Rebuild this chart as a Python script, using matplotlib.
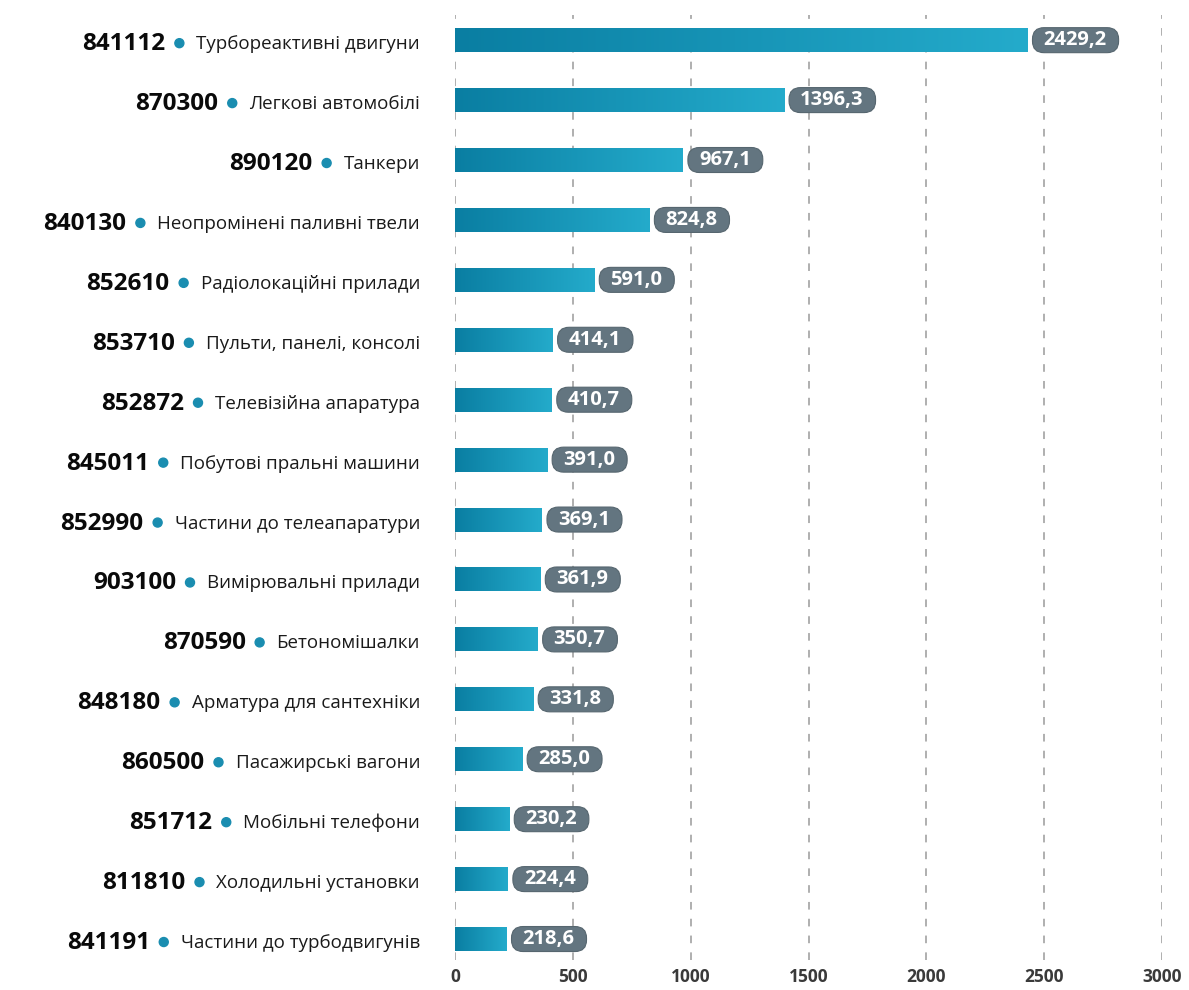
import matplotlib
matplotlib.use('Agg')
import matplotlib.pyplot as plt
import numpy as np
from matplotlib.colors import LinearSegmentedColormap
from matplotlib.patches import FancyBboxPatch, Circle

codes = ['841112', '870300', '890120', '840130', '852610', '853710', '852872', '845011',
         '852990', '903100', '870590', '848180', '860500', '851712', '811810', '841191']
names = ['Турбореактивні двигуни', 'Легкові автомобілі', 'Танкери', 'Неопромінені паливні твели',
         'Радіолокаційні прилади', 'Пульти, панелі, консолі', 'Телевізійна апаратура',
         'Побутові пральні машини', 'Частини до телеапаратури', 'Вимірювальні прилади',
         'Бетономішалки', 'Арматура для сантехніки', 'Пасажирські вагони', 'Мобільні телефони',
         'Холодильні установки', 'Частини до турбодвигунів']
values = [2429.2, 1396.3, 967.1, 824.8, 591.0, 414.1, 410.7, 391.0,
          369.1, 361.9, 350.7, 331.8, 285.0, 230.2, 224.4, 218.6]
ticks = [0, 500, 1000, 1500, 2000, 2500, 3000]

FONT = ['Open Sans', 'DejaVu Sans']
plt.rcParams['font.family'] = FONT

W, H = 1189, 990
fig = plt.figure(figsize=(W / 100, H / 100), dpi=100)
ax = fig.add_axes([455 / W, 30 / H, 707 / W, 945 / H])
n = len(values)
ys = np.arange(n)

cmap = LinearSegmentedColormap.from_list('g', ['#0a7ea2', '#24abcb'])
grad = np.linspace(0, 1, 256).reshape(1, -1)
bh = 0.40
for y, v in zip(ys, values):
    ax.imshow(grad, extent=[0, v, y + bh / 2, y - bh / 2], aspect='auto', cmap=cmap,
              zorder=3, interpolation='bilinear')

ax.set_xlim(0, 3000)
ax.set_ylim(n - 1 + 0.35, -0.42)
ax.set_xticks(ticks)
ax.set_xticklabels([str(t) for t in ticks], fontsize=12.5, fontweight='bold', color='#3a3a3a')
ax.set_yticks([])
ax.tick_params(axis='x', length=0, pad=6)
for s in ax.spines.values():
    s.set_visible(False)
for t in ticks:
    ax.axvline(t, color='#9a9a9a', lw=1.1, linestyle=(0, (5, 6)), zorder=1)

fig.canvas.draw()
renderer = fig.canvas.get_renderer()

# value badges
for y, v in zip(ys, values):
    lab = f'{v:.1f}'.replace('.', ',')
    yc = ax.transData.transform((0, y))[1]
    xe = ax.transData.transform((v, y))[0]
    t = fig.text((xe + 16) / W, yc / H, lab, ha='left', va='center', fontsize=14.5,
                 fontweight='bold', color='white', zorder=7)
    bb = t.get_window_extent(renderer)
    x0 = xe + 5
    w = bb.x1 + 12 - x0
    h = 25
    box = FancyBboxPatch((x0, yc - h / 2), w, h,
                         boxstyle='round,pad=0,rounding_size=11.5', transform=None,
                         fc='#637580', ec='#56666f', lw=0.8, zorder=5)
    fig.add_artist(box)

# left labels
for y, code, name in zip(ys, codes, names):
    t = ax.annotate(name, xy=(420 / W, y), xycoords=('figure fraction', 'data'),
                    xytext=(0, -4), textcoords='offset pixels',
                    ha='right', va='center', fontsize=13.5, color='#1a1a1a')
    bb = t.get_window_extent(renderer)
    left = bb.x0
    ydisp = ax.transData.transform((0, y))[1] - 4
    dot_x = left - 17
    fig.add_artist(Circle((dot_x, ydisp + 1), 4.5, transform=None,
                          color='#1a8db0', zorder=5))
    fig.text((dot_x - 14) / W, ydisp / H, code, ha='right', va='center',
             fontsize=17.5, fontweight='bold', color='#0a0a0a')

fig.savefig('out.png', dpi=100, facecolor='white')
